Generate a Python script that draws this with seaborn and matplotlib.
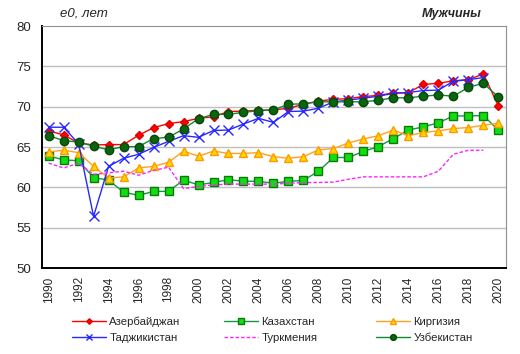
import matplotlib
matplotlib.use("Agg")
import matplotlib.pyplot as plt
import seaborn as sns
import numpy as np
import pandas as pd

sns.set_style("white")
plt.rcParams['font.family'] = ['Liberation Sans', 'DejaVu Sans']

years = list(range(1990, 2021))

azerbaijan = [67.0, 66.5, 65.5, 65.25, 65.3, 65.3, 66.45, 67.4, 67.9, 68.15, 68.55,
              68.75, 69.4, 69.45, 69.55, 69.6, 69.8, 70.3, 70.7, 70.9, 71.0,
              71.25, 71.4, 71.7, 71.75, 72.75, 72.9, 73.2, 73.35, 74.05, 70.1]
kazakhstan = [63.9, 63.4, 63.3, 61.2, 60.9, 59.4, 59.0, 59.5, 59.5, 60.9, 60.3,
              60.6, 60.95, 60.75, 60.75, 60.5, 60.75, 60.85, 62.0, 63.7, 63.7,
              64.45, 65.05, 66.05, 67.1, 67.5, 68.0, 68.85, 68.85, 68.9, 67.1]
kyrgyzstan = [64.4, 64.6, 64.3, 62.6, 61.15, 61.3, 62.4, 62.6, 63.1, 64.5, 63.85,
              64.5, 64.2, 64.2, 64.3, 63.8, 63.6, 63.8, 64.65, 64.8, 65.5,
              66.0, 66.4, 67.1, 66.4, 66.8, 67.0, 67.3, 67.4, 67.7, 67.95]
tajikistan = [67.45, 67.45, 65.4, 56.4, 62.6, 63.6, 64.1, 64.95, 65.7, 66.4, 66.2,
              67.05, 67.1, 67.85, 68.55, 68.05, 69.4, 69.45, 69.8, 70.6, 70.8,
              71.05, 71.3, 71.65, 71.75, 72.0, 72.05, 73.15, 73.35, 73.6, None]
turkmenistan = [63.0, 62.4, 63.0, 61.6, 61.8, 62.0, 61.5, 62.1, 62.5, 59.85, 60.1,
                60.3, 60.4, 60.4, 60.4, 60.4, 60.5, 60.6, 60.6, 60.65, 61.0,
                61.3, 61.3, 61.3, 61.3, 61.3, 62.0, 64.1, 64.6, 64.6, None]
uzbekistan = [66.4, 65.8, 65.6, 65.1, 64.65, 65.05, 65.05, 66.05, 66.2, 67.25, 68.5,
              69.05, 69.05, 69.3, 69.5, 69.6, 70.3, 70.35, 70.6, 70.6, 70.6,
              70.6, 70.8, 71.1, 71.1, 71.3, 71.45, 71.3, 72.4, 72.9, 71.2]

series = {
    "Азербайджан": azerbaijan,
    "Казахстан": kazakhstan,
    "Киргизия": kyrgyzstan,
    "Таджикистан": tajikistan,
    "Туркмения": turkmenistan,
    "Узбекистан": uzbekistan,
}

# style for each country
styles = {
    "Азербайджан": dict(color="#FF0000", marker="D", markersize=4, mfc="#FF0000", mec="#E00000"),
    "Казахстан": dict(color="#119944", marker="s", markersize=5.8, mfc="#11DD11", mec="#0A7A0A"),
    "Киргизия": dict(color="#FFA020", marker="^", markersize=6, mfc="#FFD700", mec="#FF9900"),
    "Таджикистан": dict(color="#2828FF", marker="x", markersize=6.5, mfc="#2828FF", mec="#2828FF"),
    "Туркмения": dict(color="#FF22FF", linestyle=(0, (2.5, 1.5)), linewidth=1.0),
    "Узбекистан": dict(color="#108A30", marker="o", markersize=6, mfc="#0B6410", mec="#064A08"),
}

df = pd.DataFrame({"year": years, **series})
df = df.melt(id_vars="year", var_name="country", value_name="e0")

fig = plt.figure(figsize=(5.2, 3.54), dpi=100)
ax = fig.add_axes([42 / 520, 1 - 268 / 354, 464 / 520, 242 / 354])

for name in series:
    st = dict(styles[name])
    sub = df[df["country"] == name].dropna()
    lw = st.pop("linewidth", 1.0)
    sns.lineplot(x="year", y="e0", data=sub, ax=ax, label=name, linewidth=lw,
                 markeredgewidth=1.0, **st)

ax.set_xlim(1989.56, 2020.51)
ax.set_ylim(50, 80)
ax.set_xticks(range(1990, 2021, 2))
ax.set_xticklabels([str(y) for y in range(1990, 2021, 2)], rotation=90, fontsize=8.5)
ax.set_yticks(range(50, 81, 5))
ax.set_yticklabels([str(v) for v in range(50, 81, 5)], fontsize=9.5)
ax.tick_params(axis="both", length=0)
ax.tick_params(axis="y", pad=8)
ax.tick_params(axis="x", pad=6)
ax.set_xlabel("")
ax.set_ylabel("")
for v in range(55, 80, 5):
    ax.axhline(v, color="#C0C0C0", linewidth=1.0, zorder=0)

ax.spines["left"].set_color("black")
ax.spines["left"].set_linewidth(1.4)
ax.spines["bottom"].set_color("black")
ax.spines["bottom"].set_linewidth(1.4)
ax.spines["top"].set_color("#909090")
ax.spines["right"].set_color("#909090")

handles, labels = ax.get_legend_handles_labels()
ax.get_legend().remove()

# legend: three columns of two entries each
columns = [[0, 3], [1, 4], [2, 5]]
col_x = [66, 218, 370]
for idx, x0 in zip(columns, col_x):
    leg = fig.legend([handles[i] for i in idx], [labels[i] for i in idx],
                     loc="upper left", bbox_to_anchor=(x0 / 520, 1 - 311 / 354),
                     frameon=False, fontsize=8.2, handlelength=3.0, handletextpad=0.3,
                     labelspacing=0.55, borderpad=0, markerscale=0.7)

fig.text(60 / 520, 1 - 14 / 354, "e0, лет", fontsize=9.5, style="italic", va="center")
fig.text(482 / 520, 1 - 14 / 354, "Мужчины", fontsize=9, style="italic",
         weight="bold", va="center", ha="right")

plt.savefig("out.png", dpi=100)
